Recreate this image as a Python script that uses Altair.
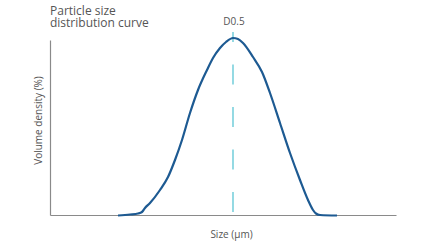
import altair as alt
import pandas as pd

# Curve (size in arbitrary units, volume density in arbitrary units)
size = [68, 80, 88, 92, 95, 100, 110, 118, 125, 132, 140, 148, 157, 163, 170, 176, 183,
        188, 193, 203, 212, 220, 230, 240, 250, 258, 263, 266, 270, 287]
density = [-0.5, 0.5, 1.5, 3, 7, 12, 25, 38, 55, 75, 102, 125, 145, 157, 167, 173, 177,
           176, 172, 158, 143, 122, 92, 62, 35, 15, 5, 1.5, 0, -0.5]

d50_size = [183]
d50_low = [3]
d50_high = [183]
d50_label = ["D0.5"]
d50_label_y = [190.5]

curve = pd.DataFrame({"size": size, "density": density})
marker = pd.DataFrame({"size": d50_size, "lo": d50_low, "hi": d50_high,
                       "label": d50_label, "ly": d50_label_y})

xs = alt.Scale(domain=[0, 346], nice=False, zero=False)
ys = alt.Scale(domain=[0, 175], nice=False, zero=False)

line = alt.Chart(curve).mark_line(
    color="#1d5a92", strokeWidth=2.2, interpolate="monotone", clip=False
).encode(
    x=alt.X("size:Q", scale=xs, axis=alt.Axis(
        title="Size (μm)", labels=False, ticks=False, grid=False,
        domainColor="#8a8a8a", domainWidth=1.2,
        titleFont="Open Sans", titleFontSize=10, titleFontWeight="normal",
        titleColor="#555555", titlePadding=14, titleX=181)),
    y=alt.Y("density:Q", scale=ys, axis=alt.Axis(
        title="Volume density (%)", labels=False, ticks=False, grid=False,
        domainColor="#8a8a8a", domainWidth=1.2,
        titleFont="Open Sans", titleFontSize=10, titleFontWeight="normal",
        titleColor="#555555", titlePadding=7, titleY=80)),
)

rule = alt.Chart(marker).mark_rule(
    color="#5cc6d4", strokeWidth=1.3, strokeDash=[20, 22.5]
).encode(
    x=alt.X("size:Q", scale=xs),
    y=alt.Y("lo:Q", scale=ys),
    y2="hi:Q",
)

label = alt.Chart(marker).mark_text(
    font="Open Sans", fontSize=10, color="#555555", baseline="alphabetic", dx=1
).encode(
    x=alt.X("size:Q", scale=xs),
    y=alt.Y("ly:Q", scale=ys),
    text="label:N",
)

chart = alt.layer(rule, line, label).properties(
    width=346,
    height=175,
    title=alt.TitleParams(
        text=["Particle size", "distribution curve"],
        anchor="start", frame="group", font="Open Sans", fontSize=12,
        fontWeight="normal", color="#555555", lineHeight=12, offset=-13,
    ),
    autosize=alt.AutoSizeParams(type="none"),
    padding={"left": 50, "top": 40, "right": 40, "bottom": 32},
    background="white",
).configure_view(stroke=None)

chart.save("out.html", embed_options={"renderer": "svg", "actions": False})
